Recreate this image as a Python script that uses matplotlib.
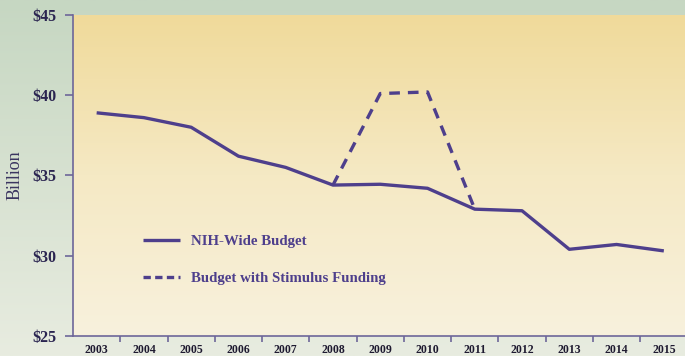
import numpy as np
import matplotlib.pyplot as plt
from matplotlib.colors import LinearSegmentedColormap

years = [2003, 2004, 2005, 2006, 2007, 2008, 2009, 2010, 2011, 2012, 2013, 2014, 2015]
nih_budget = [38.9, 38.6, 38.0, 36.2, 35.5, 34.4, 34.45, 34.2, 32.9, 32.8, 30.4, 30.7, 30.3]
stim_years = [2008, 2009, 2010, 2011]
stim_budget = [34.4, 40.1, 40.2, 32.9]
yticks = [25, 30, 35, 40, 45]

purple = "#4e3f8c"
axis_col = "#6d6699"
serif = ["Liberation Serif", "DejaVu Serif"]

fig = plt.figure(figsize=(6.85, 3.56), dpi=100)

# figure background gradient (green-grey)
bg = fig.add_axes([0, 0, 1, 1], zorder=-10)
bg_cmap = LinearSegmentedColormap.from_list("bg", ["#c6d7c2", "#e8ece0"])
bg.imshow(np.linspace(0, 1, 256).reshape(-1, 1), aspect="auto", cmap=bg_cmap,
          extent=[0, 1, 0, 1], origin="upper")
bg.axis("off")

ax = fig.add_axes([0.1066, 0.0562, 0.897, 0.902])
ax.set_xlim(2002.5, 2015.5)
ax.set_ylim(25, 45)

# plot area gradient (yellow to cream)
pa_cmap = LinearSegmentedColormap.from_list("pa", ["#f0da9a", "#f5e9c4", "#f8f1dd"])
ax.imshow(np.linspace(0, 1, 256).reshape(-1, 1), aspect="auto", cmap=pa_cmap,
          extent=[2002.5, 2015.5, 25, 45], origin="upper", zorder=0)

ax.plot(years, nih_budget, color=purple, lw=2.4, solid_capstyle="butt",
        label="NIH-Wide Budget", zorder=3)
ax.plot(stim_years, stim_budget, color=purple, lw=2.4, dashes=(3.2, 2.4),
        label="Budget with Stimulus Funding", zorder=2)

for s in ["top", "right"]:
    ax.spines[s].set_visible(False)
for s in ["left", "bottom"]:
    ax.spines[s].set_color(axis_col)
    ax.spines[s].set_linewidth(1.2)

ax.set_yticks(yticks)
ax.set_yticklabels([f"${v}" for v in yticks], fontfamily=serif, fontweight="bold",
                   fontsize=11.5, color="#2a2450")
ax.set_xticks(years)
ax.set_xticklabels([str(y) for y in years], fontfamily=serif, fontweight="bold",
                   fontsize=8.5, color="#1e1a30")
ax.set_xticks([y + 0.5 for y in years[:-1]], minor=True)
ax.tick_params(axis="x", which="major", length=0, pad=6)
ax.tick_params(axis="x", which="minor", length=4, color=axis_col, width=1.2)
ax.tick_params(axis="y", length=6, color=axis_col, width=1.2, pad=6)

ax.set_ylabel("Billion", fontfamily=serif, fontsize=13, color="#3a3460", labelpad=6)

leg = ax.legend(loc="upper left", bbox_to_anchor=(0.092, 0.357), frameon=False,
                handlelength=2.5, handletextpad=0.75, labelspacing=1.6,
                prop={"family": serif, "weight": "bold", "size": 10.7})
for t in leg.get_texts():
    t.set_color(purple)
leg.get_lines()[1].set_dashes((2.2, 1.3))

fig.savefig("out.png", dpi=100)
